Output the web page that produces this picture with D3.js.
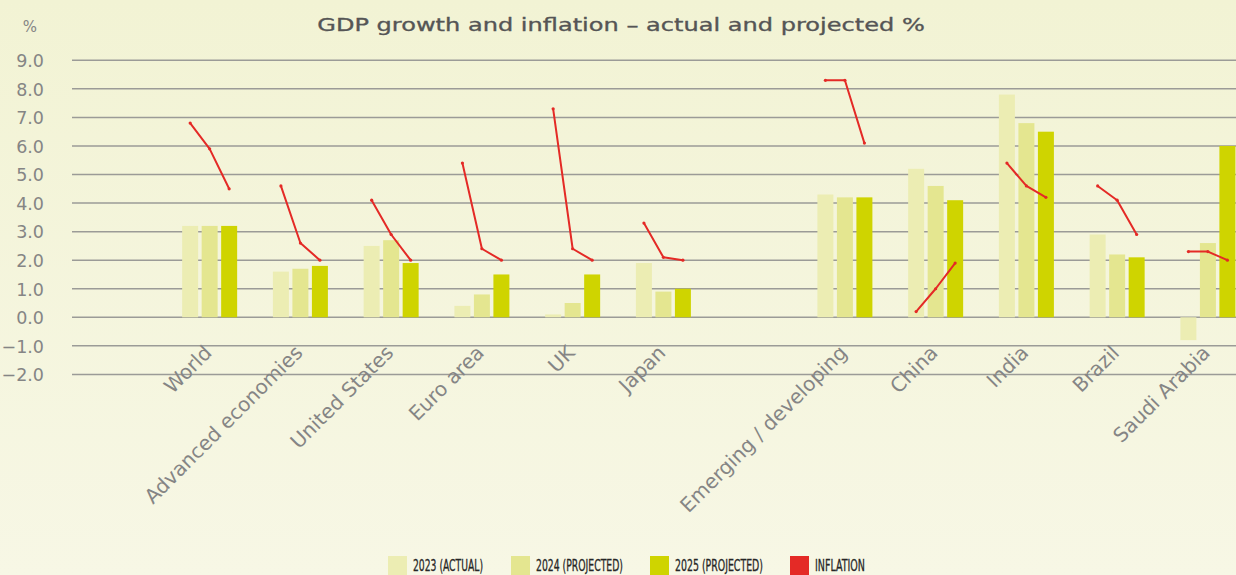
<!DOCTYPE html>
<html>
<head>
<meta charset="utf-8">
<script src="https://cdn.jsdelivr.net/npm/d3@7"></script>
<style>
  html, body { margin: 0; padding: 0; background: #f4f4dc; }
  svg { display: block; }
</style>
</head>
<body>
<svg id="chart" width="1236" height="575"></svg>
<script>
// Countries and aggregates shown along the axis
const categories = ["World", "Advanced economies", "United States", "Euro area", "UK", "Japan",
                    "Emerging / developing", "China", "India", "Brazil", "Saudi Arabia"];
// GDP growth, %
const gdp2023 = [3.2, 1.6, 2.5, 0.4, 0.1, 1.9, 4.3, 5.2, 7.8, 2.9, -0.8];
const gdp2024 = [3.2, 1.7, 2.7, 0.8, 0.5, 0.9, 4.2, 4.6, 6.8, 2.2, 2.6];
const gdp2025 = [3.2, 1.8, 1.9, 1.5, 1.5, 1.0, 4.2, 4.1, 6.5, 2.1, 6.0];
// Consumer price inflation, %
const inflation2023 = [6.8, 4.6, 4.1, 5.4, 7.3, 3.3, 8.3, 0.2, 5.4, 4.6, 2.3];
const inflation2024 = [5.9, 2.6, 2.9, 2.4, 2.4, 2.1, 8.3, 1.0, 4.6, 4.1, 2.3];
const inflation2025 = [4.5, 2.0, 2.0, 2.0, 2.0, 2.0, 6.1, 1.9, 4.2, 2.9, 2.0];
// Series and axis labels
const seriesNames = ["2023 (ACTUAL)", "2024 (PROJECTED)", "2025 (PROJECTED)"];
const inflationName = "INFLATION";
const yTicks = [-2, -1, 0, 1, 2, 3, 4, 5, 6, 7, 8, 9];
const title = "GDP growth and inflation \u2013 actual and projected %";
const unitLabel = "%";

const W = 1236, H = 575;
const colors = ["#ecedb3", "#e4e690", "#cfd400"];
const inflColor = "#e42a26";
const gridColor = "#9b9b97";
const textGray = "#858585";

const svg = d3.select("#chart");

// background wash
const defs = svg.append("defs");
const grad = defs.append("linearGradient").attr("id", "bg")
  .attr("x1", 0).attr("y1", 0).attr("x2", 0).attr("y2", 1);
grad.append("stop").attr("offset", "0%").attr("stop-color", "#f2f3d4");
grad.append("stop").attr("offset", "100%").attr("stop-color", "#f7f7e5");
svg.append("rect").attr("width", W).attr("height", H).attr("fill", "url(#bg)");

// slots: a leading empty slot and a spacer between the two country groups
const slots = ["lead", ...categories.slice(0, 6), "spacer", ...categories.slice(6)];
const x = d3.scaleBand().domain(slots).range([72.9, 72.9 + slots.length * 90.75]);
const xInner = d3.scaleBand().domain(seriesNames).range([18.5, 73.5]).paddingInner(0.18);
const y = d3.scaleLinear().domain([-2, 9]).range([374.4, 60.3]);

// gridlines
svg.append("g").selectAll("line").data(yTicks).join("line")
  .attr("x1", 72).attr("x2", W)
  .attr("y1", d => y(d)).attr("y2", d => y(d))
  .attr("stroke", gridColor).attr("stroke-width", 1.5);

// y axis labels
const yAxis = d3.axisLeft(y).tickValues(yTicks).tickFormat(d3.format(".1f")).tickSize(0).tickPadding(0);
const yG = svg.append("g").attr("transform", "translate(44,0)").call(yAxis);
yG.select(".domain").remove();
yG.selectAll("text")
  .attr("font-family", "DejaVu Sans, sans-serif").attr("font-size", 17.5)
  .attr("fill", textGray).attr("dy", "0.36em");

svg.append("text").attr("x", 30).attr("y", 32).attr("text-anchor", "middle")
  .attr("font-family", "DejaVu Sans, sans-serif").attr("font-size", 15)
  .attr("fill", textGray).text(unitLabel);

// title, widened horizontally to span its full line
const t = svg.append("text").attr("x", 0).attr("y", 0).attr("text-anchor", "middle")
  .attr("font-family", "DejaVu Sans, sans-serif").attr("font-size", 18.5)
  .attr("fill", "#555555").attr("stroke", "#555555").attr("stroke-width", 0.35)
  .text(title);
const tw = t.node().getComputedTextLength();
t.attr("transform", `translate(621,31) scale(${608 / tw},1)`);

// bars
const gdpSeries = [gdp2023, gdp2024, gdp2025];
const barData = [];
categories.forEach((c, i) => {
  gdpSeries.forEach((s, j) => barData.push({ cat: c, series: seriesNames[j], value: s[i], color: colors[j] }));
});
svg.append("g").selectAll("rect").data(barData).join("rect")
  .attr("x", d => x(d.cat) + xInner(d.series))
  .attr("width", xInner.bandwidth())
  .attr("y", d => y(Math.max(0, d.value)))
  .attr("height", d => Math.abs(y(d.value) - y(0)))
  .attr("fill", d => d.color);

// inflation lines, one short segment per country
const inflSeries = [inflation2023, inflation2024, inflation2025];
const line = d3.line().x(d => d[0]).y(d => d[1]);
const inflG = svg.append("g");
categories.forEach((c, i) => {
  const pts = inflSeries.map((s, j) => [x(c) + xInner(seriesNames[j]) + xInner.bandwidth() / 2, y(s[i])]);
  inflG.append("path").attr("d", line(pts)).attr("fill", "none")
    .attr("stroke", inflColor).attr("stroke-width", 2).attr("stroke-linejoin", "round");
  inflG.selectAll(null).data(pts).join("circle")
    .attr("cx", d => d[0]).attr("cy", d => d[1]).attr("r", 1.6).attr("fill", inflColor);
});

// category labels, rotated, ending under each group
svg.append("g").selectAll("text").data(categories).join("text")
  .attr("transform", d => `translate(${x(d) + x.bandwidth() / 2 + 4},354) rotate(-45)`)
  .attr("text-anchor", "end")
  .attr("font-family", "DejaVu Sans, sans-serif").attr("font-size", 20)
  .attr("fill", textGray).text(d => d);

// legend
const legendItems = [
  { name: seriesNames[0], color: colors[0], x: 388, w: 70 },
  { name: seriesNames[1], color: colors[1], x: 511, w: 87 },
  { name: seriesNames[2], color: colors[2], x: 650, w: 88 },
  { name: inflationName, color: inflColor, x: 790, w: 50 }
];
const lg = svg.append("g").selectAll("g").data(legendItems).join("g")
  .attr("transform", d => `translate(${d.x},556)`);
lg.append("rect").attr("width", 19).attr("height", 19).attr("fill", d => d.color);
lg.append("text").attr("x", 25).attr("y", 15.2)
  .attr("font-family", "Liberation Sans Narrow, DejaVu Sans Condensed, sans-serif")
  .attr("font-size", 16.5).attr("fill", "#262626")
  .attr("stroke", "#262626").attr("stroke-width", 0.3)
  .attr("textLength", d => d.w).attr("lengthAdjust", "spacingAndGlyphs")
  .text(d => d.name);
</script>
</body>
</html>
